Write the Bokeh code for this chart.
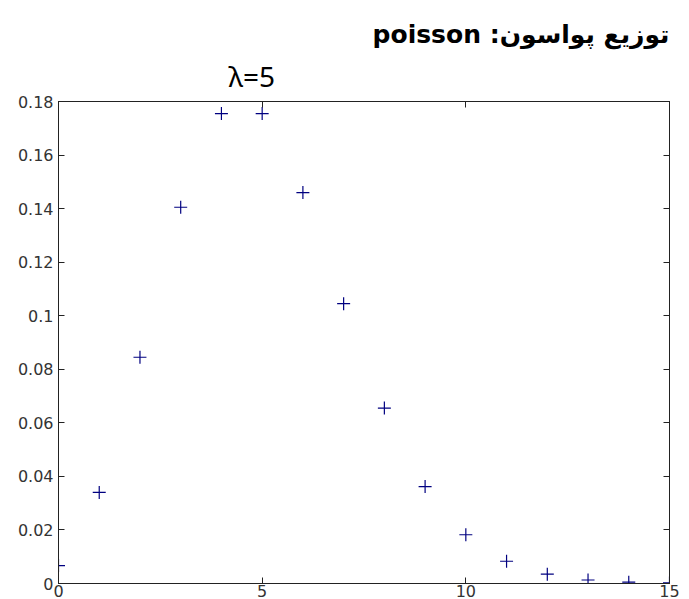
from bokeh.plotting import figure
from bokeh.models import Range1d, FixedTicker, LinearAxis, Title
from bokeh.embed import file_html
from bokeh.resources import INLINE

# ---- data ----
k_values = [0, 1, 2, 3, 4, 5, 6, 7, 8, 9, 10, 11, 12, 13, 14, 15]
probabilities = [0.0067, 0.0340, 0.0845, 0.1405, 0.1755, 0.1755, 0.1460, 0.1045,
                 0.0655, 0.0362, 0.0182, 0.0083, 0.0035, 0.0013, 0.0005, 0.0002]
x_ticks = [0, 5, 10, 15]
x_tick_labels = ["0", "5", "10", "15"]
y_ticks = [0, 0.02, 0.04, 0.06, 0.08, 0.1, 0.12, 0.14, 0.16, 0.18]
y_tick_labels = ["0", "0.02", "0.04", "0.06", "0.08", "0.1", "0.12", "0.14", "0.16", "0.18"]
title_text = "توزیع پواسون: poisson"
subtitle_text = "λ=5"

p = figure(width=689, height=599, output_backend="svg", toolbar_location=None,
           x_range=Range1d(0, 15), y_range=Range1d(0, 0.18),
           min_border_left=58, min_border_right=20, min_border_top=101, min_border_bottom=16,
           background_fill_color="white", border_fill_color="white")
p.grid.visible = False
p.outline_line_color = "#222222"
p.outline_line_width = 1

def style_axis(ax, ticks, labels, show_labels, standoff):
    ax.ticker = FixedTicker(ticks=ticks)
    ax.minor_tick_line_color = None
    ax.major_tick_in = 6
    ax.major_tick_out = 0
    ax.major_tick_line_color = "#222222"
    ax.axis_line_color = "#222222"
    ax.major_label_standoff = standoff
    if show_labels:
        ax.major_label_overrides = {t: l for t, l in zip(ticks, labels)}
        ax.major_label_text_font = "DejaVu Sans"
        ax.major_label_text_font_size = "16px"
        ax.major_label_text_color = "#333333"
    else:
        ax.major_label_overrides = {t: "" for t in ticks}
        ax.major_label_text_color = None

style_axis(p.xaxis[0], x_ticks, x_tick_labels, True, 1)
style_axis(p.yaxis[0], y_ticks, y_tick_labels, True, 5)

top_axis = LinearAxis()
style_axis(top_axis, x_ticks, x_tick_labels, False, 0)
p.add_layout(top_axis, "above")
right_axis = LinearAxis()
style_axis(right_axis, y_ticks, y_tick_labels, False, 0)
p.add_layout(right_axis, "right")

p.scatter(x=k_values, y=probabilities, marker="cross", size=13,
          line_color="#000080", line_width=1.2)

sub = Title(text=subtitle_text, align="left", offset=170, standoff=13,
            text_font="Noto Sans", text_font_style="normal",
            text_font_size="28px", text_color="black")
p.add_layout(sub, "above")
# right-to-left embedding so the Persian title reads as in the reference
main = Title(text="\u202B" + title_text + "\u202C", align="right", standoff=0,
             text_font="DejaVu Sans", text_font_style="bold",
             text_font_size="25px", text_color="black")
p.add_layout(main, "above")

open("out.html", "w").write(file_html(p, INLINE))
